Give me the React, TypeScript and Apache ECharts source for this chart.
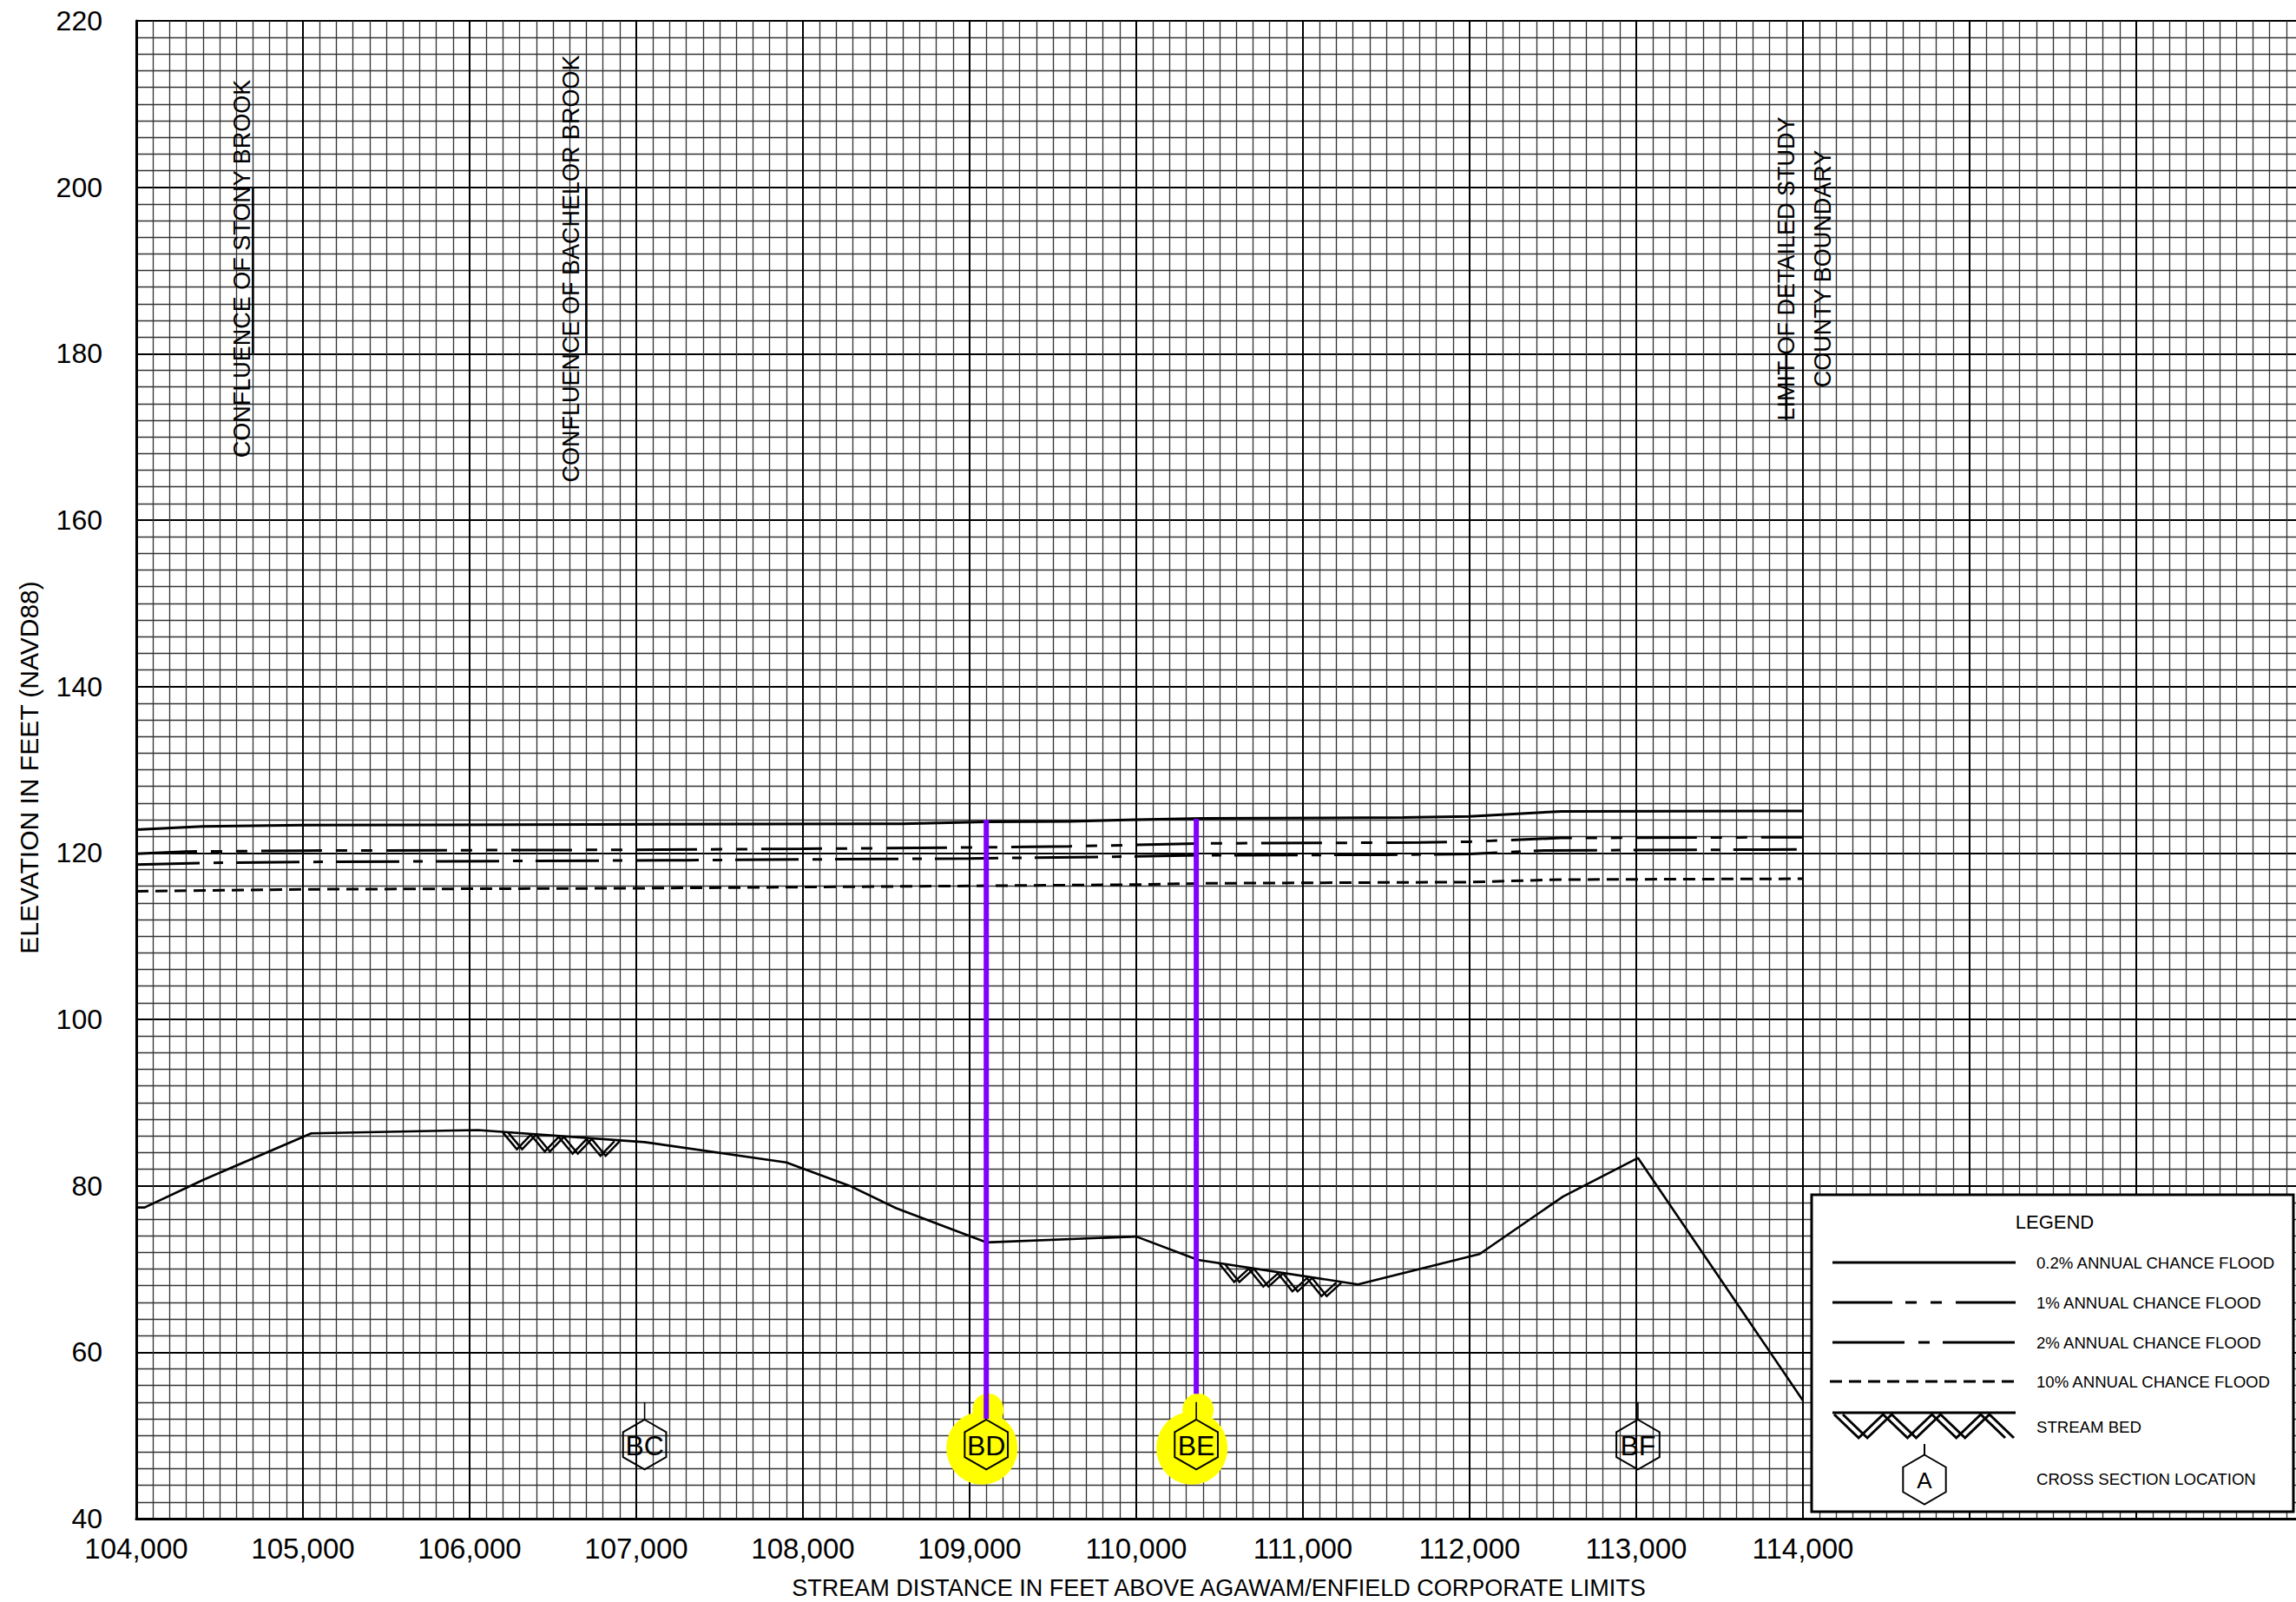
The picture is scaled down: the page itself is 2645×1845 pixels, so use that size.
import { useEffect, useRef } from 'react';
import * as echarts from 'echarts';

const FONT = '"Liberation Sans", Arial, Helvetica, sans-serif';

// ---- axes ----
const xMin = 104000;
const xMax = 117000;
const xLastLabel = 114000;
const yMin = 40;
const yMax = 220;

// ---- flood profiles: [station (ft), elevation (ft NAVD88)] ----
const flood02: number[][] = [
  [104000, 122.8], [104400, 123.2], [105000, 123.35], [108600, 123.5], [109100, 123.75], [109600, 123.8],
  [110000, 124.0], [110400, 124.15], [111600, 124.25], [112000, 124.4], [112550, 125.0], [114000, 125.05],
];
const flood1: number[][] = [
  [104000, 119.9], [104300, 120.17], [105000, 120.28], [107000, 120.38], [108000, 120.5], [109000, 120.66],
  [109600, 120.8], [110000, 120.97], [110400, 121.15], [111700, 121.25], [112000, 121.35], [112550, 121.8],
  [114000, 121.9],
];
const flood2: number[][] = [
  [104000, 118.6], [104400, 118.8], [105000, 118.92], [107300, 119.13], [109000, 119.34], [110000, 119.58],
  [110400, 119.72], [111500, 119.78], [112000, 119.88], [112450, 120.3], [114000, 120.42],
];
const flood10: number[][] = [
  [104000, 115.4], [105000, 115.63], [107000, 115.76], [109000, 116.04], [110000, 116.2], [110400, 116.35],
  [112000, 116.5], [112550, 116.8], [114000, 116.9],
];
const streamBed: number[][] = [
  [104000, 77.4], [104050, 77.4], [104400, 80.7], [105050, 86.3], [106050, 86.7], [107050, 85.25],
  [107900, 82.8], [108280, 80.0], [108560, 77.3], [109100, 73.2], [110000, 73.9], [110370, 71.1],
  [111330, 68.15], [112060, 71.8], [112560, 78.7], [113010, 83.35], [114000, 54.2],
];
// stream bed hatch extents: [x0, y0, x1, y1]
const hatchSegments: number[][] = [
  [106200, 86.5, 106900, 85.45],
  [110500, 70.7, 111230, 68.45],
];

// ---- cross sections ----
const sectionLabels = ['BC', 'BD', 'BE', 'BF'];
const sectionStations = [107050, 109100, 110360, 113010];
const sectionCenterElev = 48.9;
const sectionStemTopElev = 54.0;
const highlightTop: (number | null)[] = [null, 124.0, 124.1, null];
const highlightBottom: (number | null)[] = [null, 52.0, 55.0, null];

// ---- annotations ----
const annotationTexts = [
  'CONFLUENCE OF STONY BROOK',
  'CONFLUENCE OF BACHELOR BROOK',
  'LIMIT OF DETAILED STUDY',
  'COUNTY BOUNDARY',
];
const annotationStations = [104635, 106609, 113901, 114120];
const annotationElev = 190.2;
const leaderLines: number[][] = [
  [104700, 180, 200],
  [106700, 180, 200],
  [113900, 172, 180],
];

// ---- legend ----
const legendTitle = 'LEGEND';
const legendLabels = [
  '0.2% ANNUAL CHANCE FLOOD',
  '1% ANNUAL CHANCE FLOOD',
  '2% ANNUAL CHANCE FLOOD',
  '10% ANNUAL CHANCE FLOOD',
  'STREAM BED',
  'CROSS SECTION LOCATION',
];
const legendHexLetter = 'A';

const xAxisTitle = 'STREAM DISTANCE IN FEET ABOVE AGAWAM/ENFIELD CORPORATE LIMITS';
const yAxisTitle = 'ELEVATION IN FEET (NAVD88)';

const DASH_1 = [70, 16, 13, 16, 13, 16];
const DASH_2 = [73, 16, 11, 15];
const DASH_10 = [14, 8];

function zigzag(x0: number, y0: number, x1: number, y1: number, depth: number, period: number, off: number) {
  const len = x1 - x0;
  const n = Math.max(2, Math.round((len / period) * 2));
  const step = len / n;
  const slope = (y1 - y0) / len;
  const a: number[][] = [];
  const b: number[][] = [];
  for (let k = 0; k <= n; k++) {
    const x = x0 + k * step;
    const yTop = y0 + slope * (x - x0);
    const y = k % 2 === 0 ? yTop : yTop + depth;
    a.push([x, y]);
    b.push([x + off, y]);
  }
  return [a, b];
}

function hexPoints(cx: number, cy: number, R: number) {
  const pts: number[][] = [];
  for (let k = 0; k < 6; k++) {
    const ang = -Math.PI / 2 + (k * Math.PI) / 3;
    pts.push([cx + R * Math.cos(ang), cy + R * Math.sin(ang)]);
  }
  return pts;
}

function buildLegend() {
  const L = 2087;
  const T = 1376;
  const W = 555;
  const H = 365;
  const lx0 = 2111;
  const lx1 = 2322;
  const tx = 2346;
  const rows = [1454, 1500, 1546, 1591, 1643, 1703];
  const children: any[] = [];
  children.push({
    type: 'rect',
    shape: { x: L, y: T, width: W, height: H },
    style: { fill: '#fff', stroke: '#000', lineWidth: 3 },
    z: 100,
  });
  children.push({
    type: 'text',
    x: 2367,
    y: 1407,
    style: { text: legendTitle, fontSize: 22, fontFamily: FONT, fill: '#000', align: 'center', verticalAlign: 'middle' },
    z: 101,
  });
  const dashes: any[] = [null, [69, 15, 13, 16, 13, 16], [83, 16, 13, 15], [14, 8]];
  for (let i = 0; i < 4; i++) {
    children.push({
      type: 'line',
      shape: { x1: i === 3 ? 2108 : lx0, y1: rows[i], x2: lx1, y2: rows[i] },
      style: { stroke: '#000', lineWidth: 3, lineDash: dashes[i] || undefined },
      z: 101,
    });
  }
  // stream bed symbol
  children.push({
    type: 'line',
    shape: { x1: lx0, y1: 1627, x2: lx1, y2: 1627 },
    style: { stroke: '#000', lineWidth: 3 },
    z: 101,
  });
  const zz = zigzag(lx0 + 2, 1629, lx1 - 12, 1629, 27, 56, 10);
  zz.forEach((pts) =>
    children.push({
      type: 'polyline',
      shape: { points: pts },
      style: { stroke: '#000', lineWidth: 3, fill: null },
      z: 101,
    })
  );
  // cross section symbol
  const hcx = 2217;
  const hcy = 1704;
  const R = 28.5;
  children.push({
    type: 'line',
    shape: { x1: hcx, y1: 1663, x2: hcx, y2: hcy - R },
    style: { stroke: '#000', lineWidth: 2 },
    z: 101,
  });
  children.push({
    type: 'polygon',
    shape: { points: hexPoints(hcx, hcy, R) },
    style: { stroke: '#000', lineWidth: 2, fill: null },
    z: 101,
  });
  children.push({
    type: 'text',
    x: hcx,
    y: hcy + 1,
    style: { text: legendHexLetter, fontSize: 26, fontFamily: FONT, fill: '#000', align: 'center', verticalAlign: 'middle' },
    z: 101,
  });
  legendLabels.forEach((t, i) => {
    children.push({
      type: 'text',
      x: tx,
      y: rows[i],
      style: { text: t, fontSize: 18.6, fontFamily: FONT, fill: '#000', align: 'left', verticalAlign: 'middle' },
      z: 101,
    });
  });
  return children;
}

function buildOption(): any {
  const lineBase = { type: 'line', showSymbol: false, symbol: 'none', silent: true, z: 5 };
  return {
    animation: false,
    backgroundColor: '#fff',
    grid: { left: 157, top: 24, width: 2496, height: 1725, containLabel: false, outerBoundsMode: 'none' },
    xAxis: {
      type: 'value',
      min: xMin,
      max: xMax,
      interval: 1000,
      axisLine: { show: true, onZero: false, lineStyle: { color: '#000', width: 3 } },
      axisTick: { show: false },
      minorTick: { show: false, splitNumber: 10 },
      splitLine: { show: true, lineStyle: { color: '#000', width: 2 } },
      minorSplitLine: { show: true, lineStyle: { color: '#333', width: 1.3 } },
      axisLabel: {
        margin: 18,
        fontSize: 33,
        lineHeight: 33,
        fontFamily: FONT,
        color: '#000',
        showMaxLabel: true,
        formatter: (v: number) => (v <= xLastLabel ? v.toLocaleString('en-US') : ''),
      },
    },
    yAxis: {
      type: 'value',
      min: yMin,
      max: yMax,
      interval: 20,
      axisLine: { show: true, lineStyle: { color: '#000', width: 3 } },
      axisTick: { show: false },
      minorTick: { show: false, splitNumber: 10 },
      splitLine: { show: true, lineStyle: { color: '#000', width: 2 } },
      minorSplitLine: { show: true, lineStyle: { color: '#333', width: 1.3 } },
      axisLabel: { margin: 39, fontSize: 32, fontFamily: FONT, color: '#000' },
    },
    graphic: [
      {
        type: 'text',
        x: 1404,
        y: 1829,
        style: { text: xAxisTitle, fontSize: 27, fontFamily: FONT, fill: '#000', align: 'center', verticalAlign: 'middle' },
      },
      {
        type: 'text',
        x: 33,
        y: 884,
        rotation: Math.PI / 2,
        style: { text: yAxisTitle, fontSize: 30, fontFamily: FONT, fill: '#000', align: 'center', verticalAlign: 'middle' },
      },
      ...buildLegend(),
    ],
    series: [
      {
        type: 'custom',
        name: 'leaders',
        silent: true,
        z: 3,
        data: leaderLines,
        encode: { x: 0, y: [1, 2] },
        renderItem: (params: any, api: any) => {
          const d = leaderLines[params.dataIndex];
          const p0 = api.coord([d[0], d[1]]);
          const p1 = api.coord([d[0], d[2]]);
          return {
            type: 'line',
            shape: { x1: p0[0], y1: p0[1], x2: p1[0], y2: p1[1] },
            style: { stroke: '#000', lineWidth: 2.6 },
          };
        },
      },
      {
        type: 'custom',
        name: 'annotations',
        silent: true,
        z: 4,
        data: annotationStations.map((s) => [s, annotationElev]),
        encode: { x: 0, y: 1 },
        renderItem: (params: any, api: any) => {
          const p = api.coord([annotationStations[params.dataIndex], annotationElev]);
          return {
            type: 'text',
            x: p[0],
            y: p[1],
            rotation: Math.PI / 2,
            style: {
              text: annotationTexts[params.dataIndex],
              fontSize: 27,
              fontFamily: FONT,
              fill: '#000',
              align: 'center',
              verticalAlign: 'middle',
            },
          };
        },
      },
      { ...lineBase, name: legendLabels[0], data: flood02, lineStyle: { color: '#000', width: 3 } },
      { ...lineBase, name: legendLabels[1], data: flood1, lineStyle: { color: '#000', width: 3, type: DASH_1 } },
      { ...lineBase, name: legendLabels[2], data: flood2, lineStyle: { color: '#000', width: 3, type: DASH_2 } },
      { ...lineBase, name: legendLabels[3], data: flood10, lineStyle: { color: '#000', width: 3, type: DASH_10 } },
      { ...lineBase, name: legendLabels[4], data: streamBed, lineStyle: { color: '#000', width: 2.6 } },
      {
        type: 'custom',
        name: 'hatch',
        silent: true,
        z: 6,
        data: hatchSegments,
        encode: { x: [0, 2], y: [1, 3] },
        renderItem: (params: any, api: any) => {
          const s = hatchSegments[params.dataIndex];
          const p0 = api.coord([s[0], s[1]]);
          const p1 = api.coord([s[2], s[3]]);
          const zz = zigzag(p0[0], p0[1] + 1, p1[0] - 6, p1[1] + 1, 18, 32, 6);
          return {
            type: 'group',
            children: zz.map((pts) => ({
              type: 'polyline',
              shape: { points: pts },
              style: { stroke: '#000', lineWidth: 2.4, fill: null },
            })),
          };
        },
      },
      {
        type: 'custom',
        name: 'sections',
        silent: true,
        z: 8,
        data: sectionStations.map((s) => [s, sectionCenterElev]),
        encode: { x: 0, y: 1 },
        renderItem: (params: any, api: any) => {
          const i = params.dataIndex;
          const st = sectionStations[i];
          const c = api.coord([st, sectionCenterElev]);
          const R = 28.7;
          const stemTop = api.coord([st, sectionStemTopElev])[1];
          const children: any[] = [];
          const top = highlightTop[i];
          const bottom = highlightBottom[i];
          if (top !== null && bottom !== null) {
            children.push({
              type: 'ellipse',
              shape: { cx: c[0] - 5, cy: c[1] + 4, rx: 41, ry: 42 },
              style: { fill: '#ffff00' },
            });
            children.push({
              type: 'ellipse',
              shape: { cx: c[0] + 2, cy: c[1] - 40, rx: 18, ry: 19 },
              style: { fill: '#ffff00' },
            });
          }
          children.push({
            type: 'line',
            shape: { x1: c[0], y1: c[1] - R, x2: c[0], y2: stemTop },
            style: { stroke: '#000', lineWidth: 1.6 },
          });
          if (top !== null && bottom !== null) {
            const yt = api.coord([st, top])[1];
            const yb = api.coord([st, bottom])[1];
            children.push({
              type: 'line',
              shape: { x1: c[0], y1: yt, x2: c[0], y2: yb },
              style: { stroke: '#7f00ff', lineWidth: 6 },
            });
          }
          children.push({
            type: 'polygon',
            shape: { points: hexPoints(c[0], c[1], R) },
            style: { stroke: '#000', lineWidth: 2, fill: null },
          });
          children.push({
            type: 'text',
            x: c[0],
            y: c[1] + 1,
            style: {
              text: sectionLabels[i],
              fontSize: 32,
              fontFamily: FONT,
              fill: '#000',
              align: 'center',
              verticalAlign: 'middle',
            },
          });
          return { type: 'group', children };
        },
      },
    ],
  };
}

export default function App() {
  const ref = useRef<HTMLDivElement>(null);
  useEffect(() => {
    if (!ref.current) return;
    const chart = echarts.init(ref.current, null, { renderer: 'svg' });
    chart.setOption(buildOption());
    return () => {
      chart.dispose();
    };
  }, []);
  return (
    <div
      ref={ref}
      style={{ position: 'absolute', left: 0, top: 0, width: 2645, height: 1845, background: '#fff' }}
    />
  );
}
